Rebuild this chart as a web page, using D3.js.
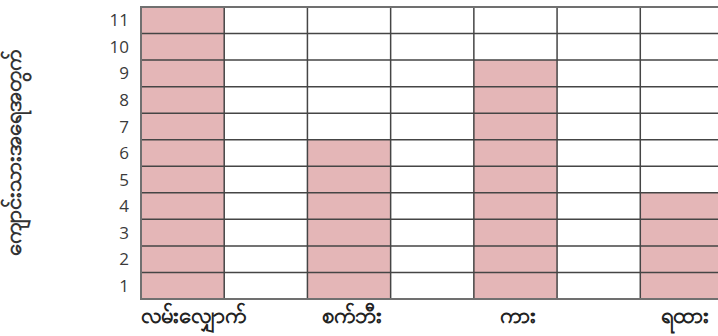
<!DOCTYPE html>
<html><head><meta charset="utf-8">
<script src="https://cdn.jsdelivr.net/npm/d3@7"></script>
<style>body{margin:0;background:#fff;overflow:hidden}</style></head>
<body><svg id="chart" width="718" height="336"></svg>
<script>
// Transport modes and how many students use each
const categories = ["လမ်းလျှောက်", "စက်ဘီး", "ကား", "ရထား"];
const counts = [11, 6, 9, 4];
const yTickLabels = [1, 2, 3, 4, 5, 6, 7, 8, 9, 10, 11];
const yTitle = "ကျောင်းသားအရေအတွက်";

const plot = { left: 141, top: 7, right: 723.5, bottom: 299 };

const svg = d3.select("#chart");

// every category column is followed by an empty column of the same width
const x = d3.scaleBand()
  .domain(categories)
  .range([plot.left, plot.right])
  .paddingInner(0.5)
  .paddingOuter(0);

const y = d3.scaleLinear()
  .domain([0, d3.max(yTickLabels)])
  .range([plot.bottom, plot.top]);

// bars
svg.append("g").selectAll("rect")
  .data(categories)
  .join("rect")
  .attr("x", d => x(d))
  .attr("width", x.bandwidth())
  .attr("y", (d, i) => y(counts[i]))
  .attr("height", (d, i) => y(0) - y(counts[i]))
  .attr("fill", "#e4b6b7");

// grid: horizontal line at every unit, vertical line at every column edge
const grid = svg.append("g");
grid.selectAll("line.h")
  .data(d3.range(0, d3.max(yTickLabels) + 1))
  .join("line")
  .attr("class", "h")
  .attr("x1", plot.left).attr("x2", plot.right)
  .attr("y1", d => y(d)).attr("y2", d => y(d))
  .attr("stroke", "#454545")
  .attr("stroke-width", 1.5);

const edges = Array.from(new Set(categories.flatMap(c => [x(c), x(c) + x.bandwidth()])));
grid.selectAll("line.v")
  .data(edges)
  .join("line")
  .attr("class", "v")
  .attr("x1", d => d).attr("x2", d => d)
  .attr("y1", plot.top).attr("y2", plot.bottom)
  .attr("stroke", "#454545")
  .attr("stroke-width", 1.5);

// outer frame
svg.append("rect")
  .attr("x", plot.left).attr("y", plot.top)
  .attr("width", plot.right - plot.left)
  .attr("height", plot.bottom - plot.top)
  .attr("fill", "none")
  .attr("stroke", "#707070")
  .attr("stroke-width", 2);

// y tick labels, one per row centre
svg.append("g").selectAll("text")
  .data(yTickLabels)
  .join("text")
  .attr("x", plot.left - 12)
  .attr("y", d => y(d - 0.5))
  .attr("dy", "0.36em")
  .attr("text-anchor", "end")
  .attr("font-family", "'Open Sans', sans-serif")
  .attr("font-size", 17)
  .attr("fill", "#3a3a3a")
  .text(d => d);

// category labels under their columns, kept inside the plot on the left
const catLabels = svg.append("g").selectAll("text")
  .data(categories)
  .join("text")
  .attr("y", 323)
  .attr("text-anchor", "middle")
  .attr("font-size", 22)
  .attr("font-weight", "bold")
  .attr("fill", "#222")
  .text(d => d);
catLabels.attr("x", function(d) {
  const w = this.getComputedTextLength();
  return Math.max(x(d) + x.bandwidth() / 2 + 3, plot.left + w / 2);
});

// y axis title
svg.append("text")
  .attr("transform", `translate(21,${(plot.top + plot.bottom) / 2}) rotate(-90)`)
  .attr("text-anchor", "middle")
  .attr("font-size", 22)
  .attr("font-weight", "bold")
  .attr("fill", "#333")
  .text(yTitle);
</script></body></html>
